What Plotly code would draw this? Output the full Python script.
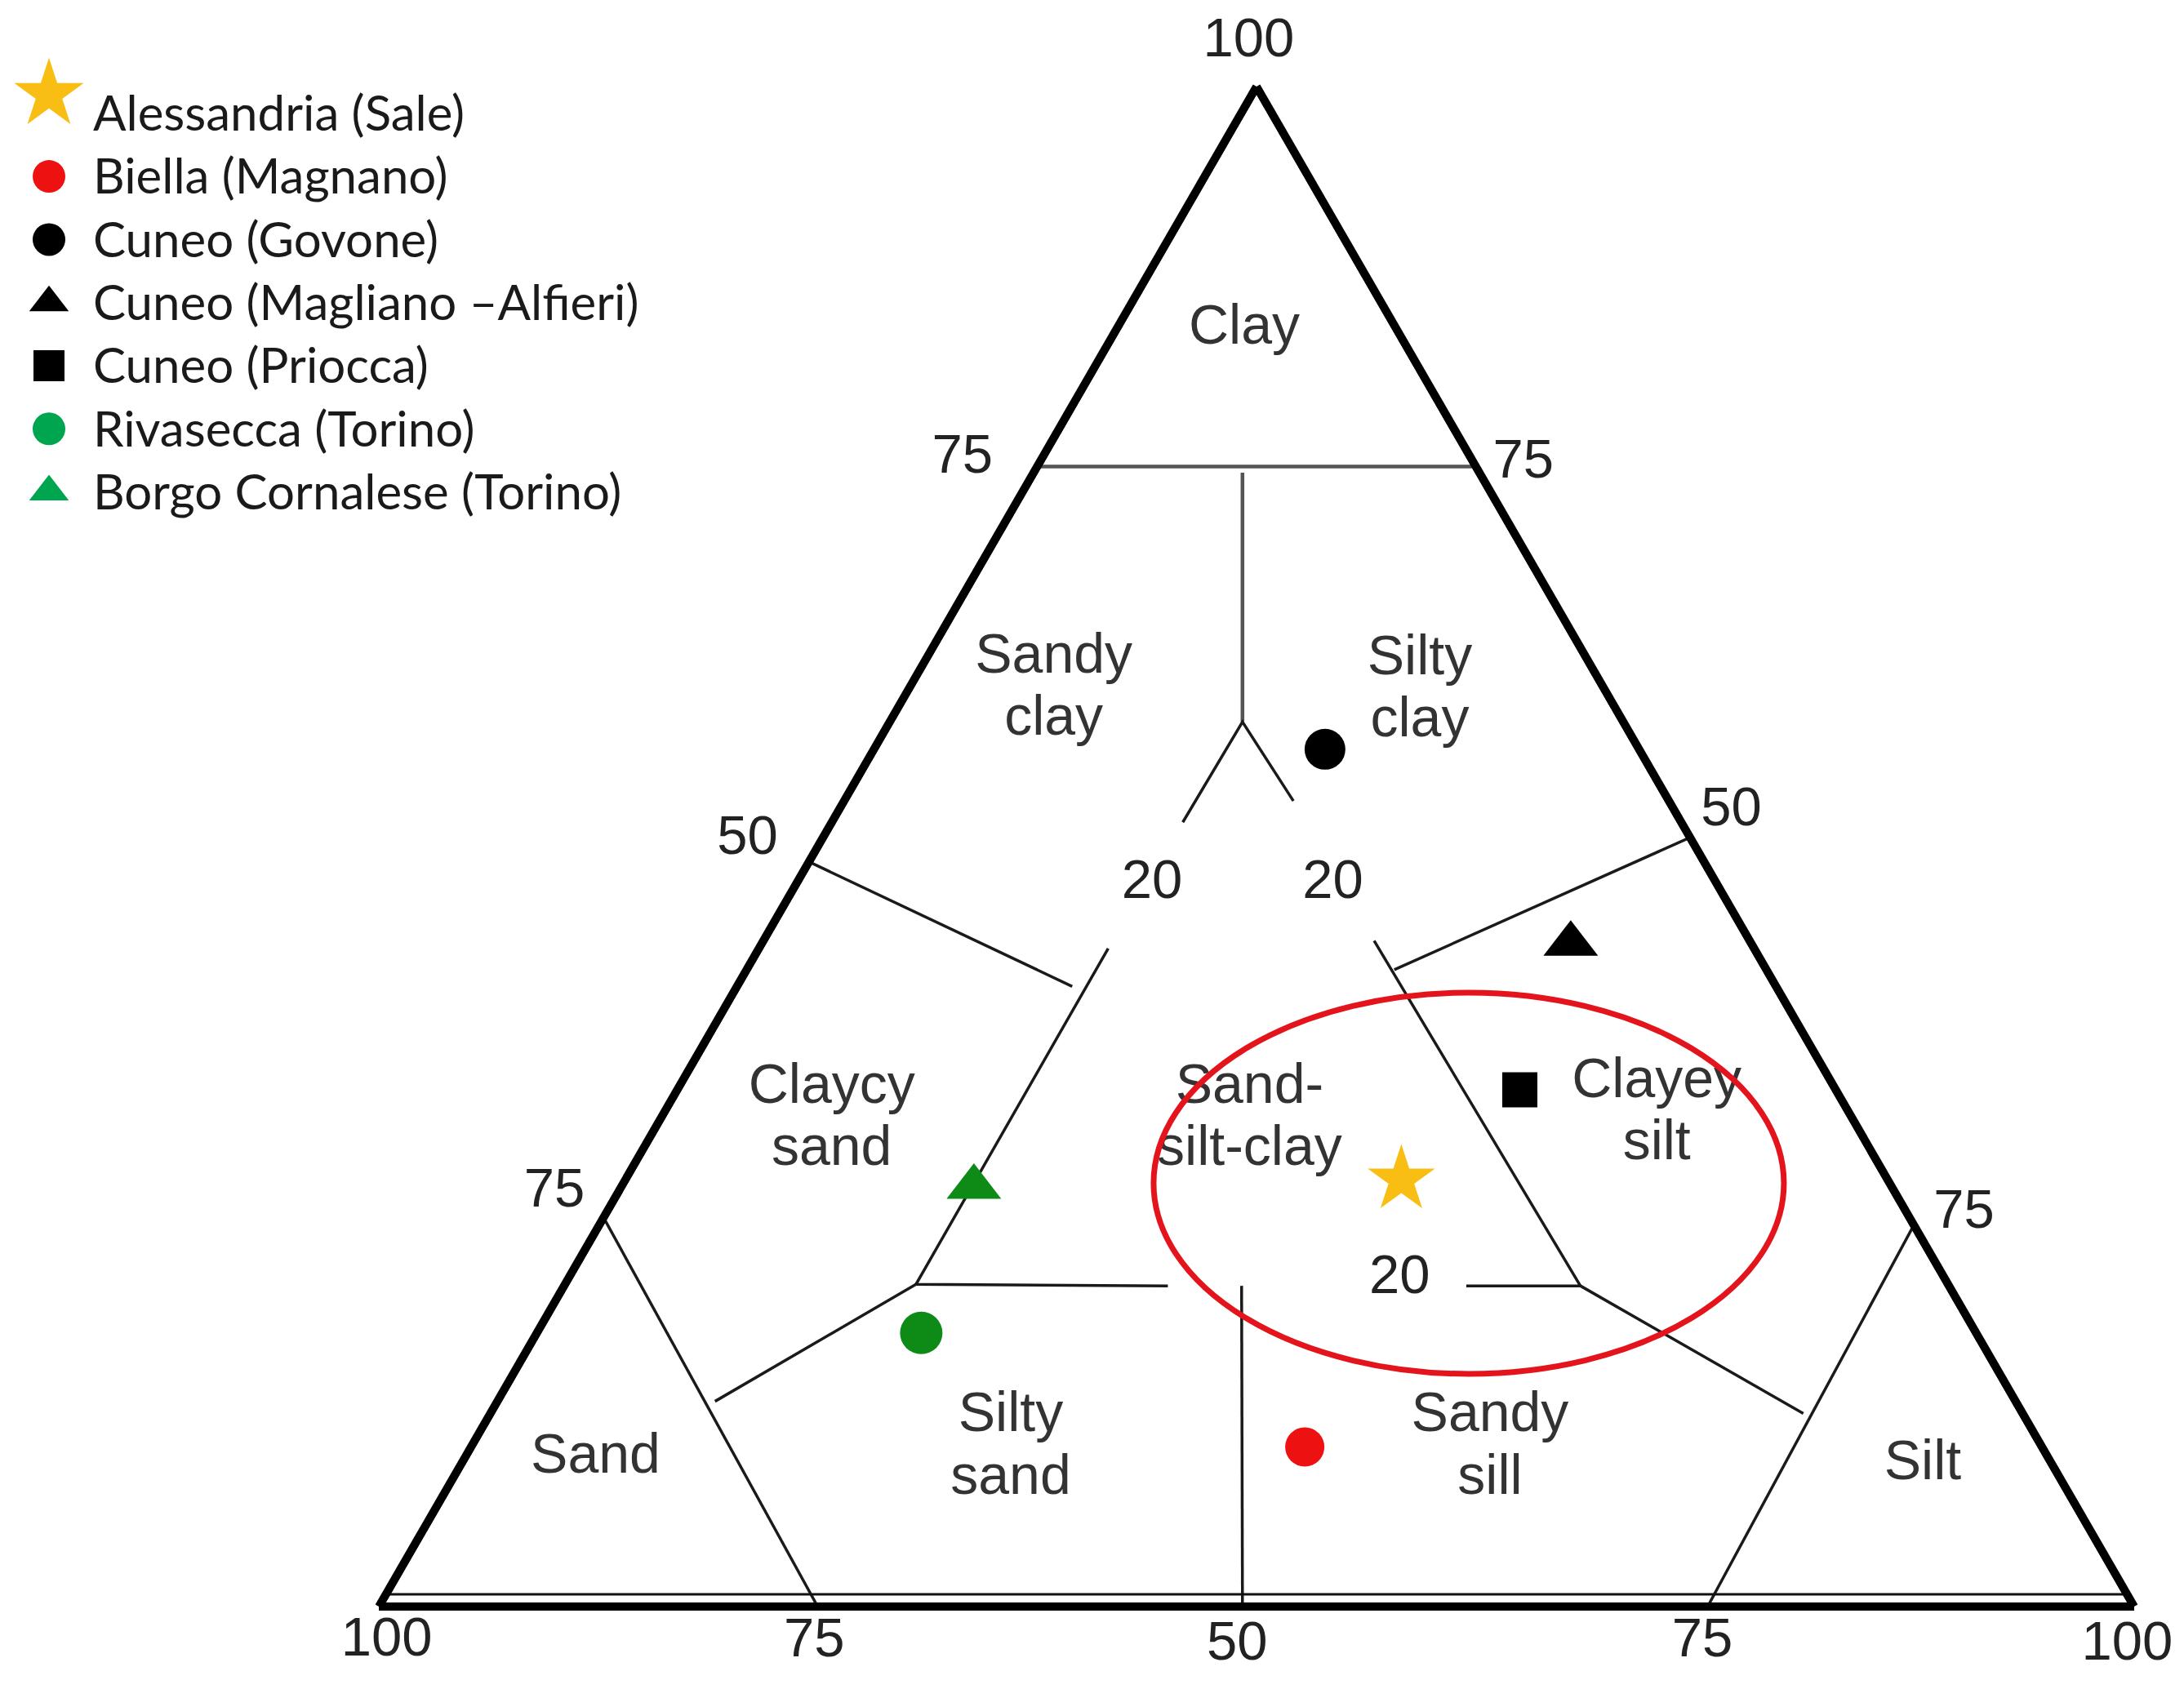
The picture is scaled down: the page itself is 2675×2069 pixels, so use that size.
import plotly.graph_objects as go

# soil samples, percentages (clay, sand, silt)
sites = ["Alessandria (Sale)", "Biella (Magnano)", "Cuneo (Govone)",
         "Cuneo (Magliano \u2013Alfieri)", "Cuneo (Priocca)",
         "Rivasecca (Torino)", "Borgo Cornalese (Torino)"]
site_clay = [28.1, 10.5, 56.4, 43.6, 34.0, 18.0, 27.6]
site_sand = [27.7, 42.0, 17.9, 10.3, 18.0, 60.1, 52.3]
site_silt = [44.2, 47.5, 25.7, 46.1, 48.0, 21.9, 20.1]
site_symbols = ["star", "circle", "circle", "triangle-up", "square", "circle", "triangle-up"]
site_colors = ["#F9BE13", "#EE1111", "#000000", "#000000", "#000000", "#0E8A16", "#0E8A16"]
legend_colors = ["#F9BE13", "#EE1111", "#000000", "#000000", "#000000", "#00A550", "#00A550"]

# class boundaries of the Shepard diagram, each segment as (clay, sand, silt) points
frame = [[(100, 0, 0), (0, 100, 0), (0, 0, 100), (100, 0, 0)]]
base_inner = [[(0.8, 99.2, 0), (0.8, 0, 99.2)]]
clay_limit = [[(75, 25, 0), (75, 0, 25)], [(74.6, 13.5, 11.9), (58.2, 21.7, 20.1)]]
boundaries = [
    [(51.6, 28.4, 20.0), (58.2, 21.7, 20.1), (53.0, 21.4, 25.6)],
    [(43.3, 36.8, 19.9), (21.2, 58.8, 20.0), (21.1, 44.5, 34.4)],
    [(21.1, 27.5, 51.4), (21.1, 21.0, 57.9), (43.8, 21.4, 34.8)],
    [(49.0, 51.0, 0), (40.8, 40.1, 19.1)],
    [(50.6, 0, 49.4), (41.9, 21.2, 36.9)],
    [(25.6, 74.4, 0), (0, 75, 25)],
    [(13.5, 74.1, 12.4), (21.2, 58.8, 20.0)],
    [(25.1, 0, 74.9), (0, 24.3, 75.7)],
    [(12.7, 12.5, 74.8), (21.1, 21.0, 57.9)],
    [(21.1, 40.3, 38.6), (0, 50.8, 49.2)],
]

# class names
classes = ["Clay", "Sandy<br>clay", "Silty<br>clay", "Claycy<br>sand", "Sand-<br>silt-clay",
           "Clayey<br>silt", "Sand", "Silty<br>sand", "Sandy<br>sill", "Silt"]
class_clay = [84.0, 60.3, 60.2, 32.0, 32.0, 32.4, 9.7, 10.4, 10.4, 9.3]
class_sand = [8.7, 31.4, 10.6, 58.2, 34.4, 11.0, 82.8, 58.8, 31.5, 7.4]
class_silt = [7.3, 8.3, 29.2, 9.8, 33.6, 56.6, 7.5, 30.8, 58.1, 83.3]

# scale numbers around the triangle (some sit outside it, so negative shares)
ticks = ["100", "75", "75", "50", "50", "75", "75", "100", "75", "50", "75", "100", "20", "20", "20"]
tick_clay = [102.9, 75.5, 75.2, 50.4, 52.3, 27.2, 25.8, -2.3, -2.4, -2.6, -2.4, -2.6, 47.5, 47.5, 21.5]
tick_sand = [-1.0, 29.0, -2.8, 53.8, -3.2, 76.4, -3.2, 100.7, 76.4, 52.4, 25.8, 1.7, 32.2, 21.9, 31.1]
tick_silt = [-1.9, -4.5, 27.6, -4.2, 50.9, -3.6, 77.4, 1.6, 26.0, 50.2, 76.6, 100.9, 20.3, 30.6, 47.4]

# page geometry (px)
W, H = 2675, 2069
TRI_LEFT, TRI_RIGHT, TRI_BASE = 464, 2614, 1968
SQ3 = 3 ** 0.5
tri_h = (TRI_RIGHT - TRI_LEFT) * SQ3 / 2
px_per_unit = (TRI_RIGHT - TRI_LEFT) / 100.0


def seg_trace(segs, color, width):
    a, b, c = [], [], []
    for seg in segs:
        for p in seg:
            a.append(p[0])
            b.append(p[1])
            c.append(p[2])
        a.append(None)
        b.append(None)
        c.append(None)
    return go.Scatterternary(
        a=a, b=b, c=c, mode="lines", line=dict(color=color, width=width),
        hoverinfo="skip", showlegend=False
    )


fig = go.Figure()
fig.add_trace(seg_trace(clay_limit, "#555555", 4.5))
fig.add_trace(seg_trace(boundaries, "#1a1a1a", 3.5))
fig.add_trace(seg_trace(base_inner, "#111111", 3))
fig.add_trace(seg_trace(frame, "#000000", 10))

# two-line names: place each line separately to get a tight line spacing
LINE_GAP = 4.1
lab_a, lab_b, lab_c, lab_t = [], [], [], []
for name, a, b, c in zip(classes, class_clay, class_sand, class_silt):
    parts = name.split("<br>")
    for k, part in enumerate(parts):
        d = ((len(parts) - 1) / 2 - k) * LINE_GAP
        lab_a.append(a + d)
        lab_b.append(b - d / 2)
        lab_c.append(c - d / 2)
        lab_t.append(part)

fig.add_trace(go.Scatterternary(
    a=lab_a, b=lab_b, c=lab_c, mode="text", text=lab_t,
    textfont=dict(family="Liberation Sans", size=68, color="#333333"),
    hoverinfo="skip", showlegend=False
))
fig.add_trace(go.Scatterternary(
    a=site_clay, b=site_sand, c=site_silt, mode="markers", text=sites,
    marker=dict(symbol=site_symbols, color=site_colors, opacity=1,
                size=[62, 48, 50, 58, 43, 52, 58], line=dict(width=0)),
    showlegend=False
))

# scale numbers on a cartesian overlay lined up with the triangle
fig.add_trace(go.Scatter(
    x=[s + a / 2 for a, s in zip(tick_clay, tick_silt)],
    y=[a * SQ3 / 2 for a in tick_clay],
    xaxis="x2", yaxis="y2", mode="text", text=ticks,
    textfont=dict(family="Liberation Sans", size=67, color="#222222"),
    hoverinfo="skip", showlegend=False, cliponaxis=False
))

# hand-made legend (plotly caps legend symbols at 16px)
rows = list(range(len(sites)))
marker_rows = [r - 0.08 for r in rows]
marker_rows[0] = -0.38
fig.add_trace(go.Scatter(
    x=[60] * len(sites), y=marker_rows, mode="markers",
    marker=dict(symbol=site_symbols, color=legend_colors, opacity=1,
                size=[64, 40, 40, 42, 38, 40, 42], line=dict(width=0)),
    hoverinfo="skip", showlegend=False, cliponaxis=False
))
fig.add_trace(go.Scatter(
    x=[114] * len(sites), y=rows, mode="text", text=sites, textposition="middle right",
    textfont=dict(family="Lato", size=60, color="#1a1a1a"),
    hoverinfo="skip", showlegend=False, cliponaxis=False
))

frame_axis = dict(showline=True, linecolor="#000000", linewidth=10, showgrid=False,
                  showticklabels=False, ticks="", title=dict(text=""))
fig.update_layout(
    template="none",
    width=W, height=H,
    margin=dict(l=0, r=0, t=0, b=0),
    paper_bgcolor="white",
    plot_bgcolor="rgba(0,0,0,0)",
    showlegend=False,
    ternary=dict(
        sum=100,
        domain=dict(x=[TRI_LEFT / W, TRI_RIGHT / W],
                    y=[(H - TRI_BASE) / H, (H - TRI_BASE + tri_h) / H]),
        bgcolor="rgba(0,0,0,0)",
        aaxis=frame_axis, baxis=frame_axis, caxis=frame_axis,
    ),
    xaxis=dict(domain=[0, 0.35], range=[0, 0.35 * W], visible=False, fixedrange=True),
    yaxis=dict(domain=[0.5998, 1], range=[8.836, -1.876], visible=False, fixedrange=True),
    xaxis2=dict(domain=[0, 1], range=[-TRI_LEFT / px_per_unit, (W - TRI_LEFT) / px_per_unit],
                visible=False, fixedrange=True),
    yaxis2=dict(domain=[0, 1], range=[-(H - TRI_BASE) / px_per_unit, TRI_BASE / px_per_unit],
                visible=False, fixedrange=True, anchor="x2"),
    shapes=[dict(type="circle", xref="paper", yref="paper",
                 x0=0.5282, x1=0.8168, y0=0.1866, y1=0.4123,
                 line=dict(color="#E3141B", width=7))],
)

fig.write_html("out.html", config={"displayModeBar": False},
               post_script="document.body.style.margin = '0';")
